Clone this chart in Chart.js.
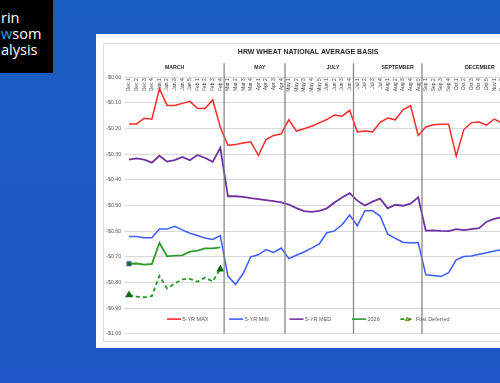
<!DOCTYPE html>
<html>
<head>
  <meta charset="UTF-8">
  <title>HRW Wheat National Average Basis</title>
  <script src="https://cdn.jsdelivr.net/npm/chart.js"></script>
  <style>
    body {
      margin: 0;
      width: 500px;
      height: 383px;
      overflow: hidden;
      position: relative;
      background: linear-gradient(180deg, #1b5ec3 0%, #2157c8 100%);
      font-family: 'Open Sans', sans-serif;
    }

    /* logo block, cropped at the left edge */
    .logo {
      position: absolute;
      left: 0;
      top: 0;
      width: 53px;
      height: 73px;
      background: #000;
      color: #fff;
    }
    .logo div {
      position: absolute;
      left: 1px;
      font-size: 14.5px;
      line-height: 16px;
      white-space: nowrap;
    }
    .logo .accent { color: #2aa4e2; }

    .panel {
      position: absolute;
      left: 96px;
      top: 34px;
      width: 440px;
      height: 314px;
      background: #fff;
    }
    .frame {
      position: absolute;
      left: 103px;
      top: 43px;
      width: 430px;
      height: 297px;
      border: 1px solid #dcdcdc;
    }
    .chart-box {
      position: absolute;
      left: 103px;
      top: 43px;
      width: 421px;
      height: 298px;
    }
  </style>
</head>
<body>

<div class="logo">
  <div style="top:10px">rin</div>
  <div style="top:26px"><span class="accent">w</span>som</div>
  <div style="top:42px">alysis</div>
</div>

<div class="panel"></div>
<div class="frame"></div>
<div class="chart-box">
  <canvas id="basisChart"></canvas>
</div>

<script>
  // weekly categories
  const weeks = [
    'Dec 1', 'Dec 2', 'Dec 3', 'Dec 4', 'Jan 1', 'Jan 2', 'Jan 3', 'Jan 4', 'Jan 5', 'Feb 1', 'Feb 2', 'Feb 3', 'Feb 4',
    'Mar 1', 'Mar 2', 'Mar 3', 'Mar 4', 'Apr 1', 'Apr 2', 'Apr 3', 'Apr 4',
    'May 1', 'May 2', 'May 3', 'May 4', 'May 5', 'Jun 1', 'Jun 2', 'Jun 3', 'Jun 4',
    'Jul 1', 'Jul 2', 'Jul 3', 'Jul 4', 'Aug 1', 'Aug 2', 'Aug 3', 'Aug 4', 'Aug 5',
    'Sep 1', 'Sep 2', 'Sep 3', 'Sep 4', 'Oct 1', 'Oct 2', 'Oct 3', 'Oct 4', 'Oct 5', 'Nov 1', 'Nov 2', 'Nov 3'
  ];

  // futures month groups over the weeks
  const groups = ['MARCH', 'MAY', 'JULY', 'SEPTEMBER', 'DECEMBER'];
  const groupSizes = [13, 8, 9, 9, 12];

  const max5 = [
    -0.182, -0.182, -0.160, -0.164, -0.045, -0.110, -0.110, -0.102, -0.094, -0.121, -0.122, -0.088, -0.195,
    -0.265, -0.262, -0.256, -0.252, -0.305, -0.243, -0.227, -0.221,
    -0.166, -0.210, -0.201, -0.191, -0.178, -0.165, -0.147, -0.152, -0.129,
    -0.213, -0.210, -0.213, -0.176, -0.159, -0.166, -0.127, -0.111, -0.227,
    -0.194, -0.185, -0.183, -0.183, -0.307, -0.204, -0.177, -0.175, -0.187, -0.163, -0.178, -0.170
  ];
  const min5 = [
    -0.621, -0.621, -0.626, -0.626, -0.592, -0.592, -0.581, -0.595, -0.608, -0.617, -0.627, -0.632, -0.617,
    -0.775, -0.808, -0.765, -0.700, -0.692, -0.672, -0.683, -0.666,
    -0.707, -0.694, -0.681, -0.666, -0.650, -0.606, -0.599, -0.575, -0.537,
    -0.579, -0.520, -0.520, -0.541, -0.612, -0.628, -0.643, -0.646, -0.644,
    -0.770, -0.773, -0.777, -0.762, -0.712, -0.699, -0.697, -0.690, -0.684, -0.677, -0.672, -0.668
  ];
  const med5 = [
    -0.321, -0.316, -0.321, -0.333, -0.306, -0.329, -0.323, -0.311, -0.324, -0.303, -0.315, -0.330, -0.275,
    -0.464, -0.464, -0.466, -0.471, -0.475, -0.479, -0.483, -0.488,
    -0.496, -0.510, -0.522, -0.525, -0.521, -0.511, -0.488, -0.469, -0.452,
    -0.481, -0.500, -0.485, -0.473, -0.511, -0.497, -0.501, -0.493, -0.468,
    -0.598, -0.597, -0.599, -0.600, -0.592, -0.596, -0.592, -0.588, -0.563, -0.552, -0.545, -0.540
  ];
  const y2026 = [
    -0.727, -0.726, -0.730, -0.728, -0.646, -0.698, -0.695, -0.694, -0.680, -0.676, -0.667, -0.667, -0.663
  ];
  const firstDeferred = [
    -0.849, -0.855, -0.858, -0.853, -0.774, -0.823, -0.804, -0.788, -0.786, -0.797, -0.781, -0.796, -0.748
  ];

  // where the month text boxes sit, in category steps from the first week
  const groupLabelAt = [6.0, 17.2, 26.8, 35.3, 46.1];

  Chart.defaults.font.family = "'Liberation Sans', Arial, sans-serif";

  function moneyLabel(v) {
    if (Math.abs(v) < 0.0001) return '$0.00';
    return (v < 0 ? '-$' : '$') + Math.abs(v).toFixed(2);
  }

  // separators, month names and the legend drawn inside the plot like the excel chart
  const excelExtras = {
    id: 'excelExtras',
    afterDatasetsDraw(chart) {
      const ctx = chart.ctx;
      const xs = chart.scales.x;
      const area = chart.chartArea;
      const step = xs.getPixelForValue(1) - xs.getPixelForValue(0);

      ctx.save();

      // vertical separators between contract months
      ctx.strokeStyle = '#7f7f7f';
      ctx.lineWidth = 1.2;
      let end = 0;
      groupSizes.forEach((n, g) => {
        end += n;
        if (g < groupSizes.length - 1) {
          const px = xs.getPixelForValue(end - 1) + step / 2;
          ctx.beginPath();
          ctx.moveTo(px, area.top - 14);
          ctx.lineTo(px, area.bottom);
          ctx.stroke();
        }
      });

      // month names
      ctx.fillStyle = '#262626';
      ctx.font = 'bold 5.2px "Liberation Sans"';
      ctx.textAlign = 'center';
      ctx.textBaseline = 'middle';
      groups.forEach((name, g) => {
        const px = xs.getPixelForValue(0) + groupLabelAt[g] * step;
        ctx.fillText(name, px, area.top - 9.6);
      });

      // legend row
      const ly = area.bottom - 14.7;
      let lx = area.left + 41.8;
      ctx.font = '5.5px "Liberation Sans"';
      ctx.textAlign = 'left';
      chart.data.datasets.forEach(ds => {
        ctx.strokeStyle = ds.borderColor;
        ctx.lineWidth = 1.6;
        ctx.setLineDash(ds.borderDash || []);
        ctx.beginPath();
        ctx.moveTo(lx, ly);
        ctx.lineTo(lx + 14, ly);
        ctx.stroke();
        ctx.setLineDash([]);
        if (ds.pointStyle === 'triangle') {
          ctx.fillStyle = '#b8b000';
          ctx.strokeStyle = '#2d6b10';
          ctx.lineWidth = 0.6;
          ctx.beginPath();
          ctx.moveTo(lx + 7, ly - 2.2);
          ctx.lineTo(lx + 9.2, ly + 1.6);
          ctx.lineTo(lx + 4.8, ly + 1.6);
          ctx.closePath();
          ctx.fill();
          ctx.stroke();
        }
        ctx.fillStyle = '#595959';
        ctx.fillText(ds.label, lx + 15.5, ly);
        lx += 15.5 + ctx.measureText(ds.label).width + 20.7;
      });

      ctx.restore();
    }
  };

  const ctx = document.getElementById('basisChart').getContext('2d');
  new Chart(ctx, {
    type: 'line',
    data: {
      labels: weeks,
      datasets: [
        {
          label: '5-YR MAX',
          data: max5,
          borderColor: '#ff2b2b',
          borderWidth: 1.5,
          pointRadius: 0
        },
        {
          label: '5-YR MIN',
          data: min5,
          borderColor: '#3b5cff',
          borderWidth: 1.5,
          pointRadius: 0
        },
        {
          label: '5-YR MED',
          data: med5,
          borderColor: '#7030a0',
          borderWidth: 1.8,
          pointRadius: 0
        },
        {
          label: '2026',
          data: y2026,
          borderColor: '#2f9a2f',
          borderWidth: 1.8,
          pointStyle: 'rect',
          pointRadius: c => c.dataIndex === 0 ? 3 : 0,
          pointBackgroundColor: '#1e6b1e',
          pointBorderColor: '#3b6fd6',
          pointBorderWidth: 1
        },
        {
          label: 'First Deferred',
          data: firstDeferred,
          borderColor: '#1f9a1f',
          borderWidth: 1.8,
          borderDash: [4, 3],
          pointStyle: 'triangle',
          pointRadius: c => (c.dataIndex === 0 || c.dataIndex === firstDeferred.length - 1) ? 2.8 : 0,
          pointBackgroundColor: '#0d6b0d',
          pointBorderColor: '#0d6b0d'
        }
      ]
    },
    options: {
      responsive: true,
      maintainAspectRatio: false,
      animation: false,
      layout: {
        padding: { left: 0, right: 10.7, top: 0, bottom: 5.3 }
      },
      plugins: {
        legend: { display: false },
        tooltip: { enabled: false },
        title: {
          display: true,
          text: 'HRW WHEAT NATIONAL AVERAGE BASIS',
          color: '#262626',
          font: { size: 7, weight: 'bold' },
          padding: { top: 4.5, bottom: 21.3 }
        }
      },
      scales: {
        x: {
          position: { y: 0 },
          offset: true,
          grid: { display: false, drawTicks: false },
          border: { display: false },
          ticks: {
            autoSkip: false,
            minRotation: 90,
            maxRotation: 90,
            padding: 1,
            color: '#404040',
            font: { size: 5 }
          }
        },
        y: {
          min: -1,
          max: 0,
          grid: { color: '#d9d9d9', drawTicks: false },
          border: { display: false },
          ticks: {
            stepSize: 0.1,
            padding: 4,
            color: '#595959',
            font: { size: 5.3 },
            callback: v => moneyLabel(v)
          },
          afterFit: scale => { scale.width = 22.2; }
        }
      }
    },
    plugins: [excelExtras]
  });
</script>

</body>
</html>
